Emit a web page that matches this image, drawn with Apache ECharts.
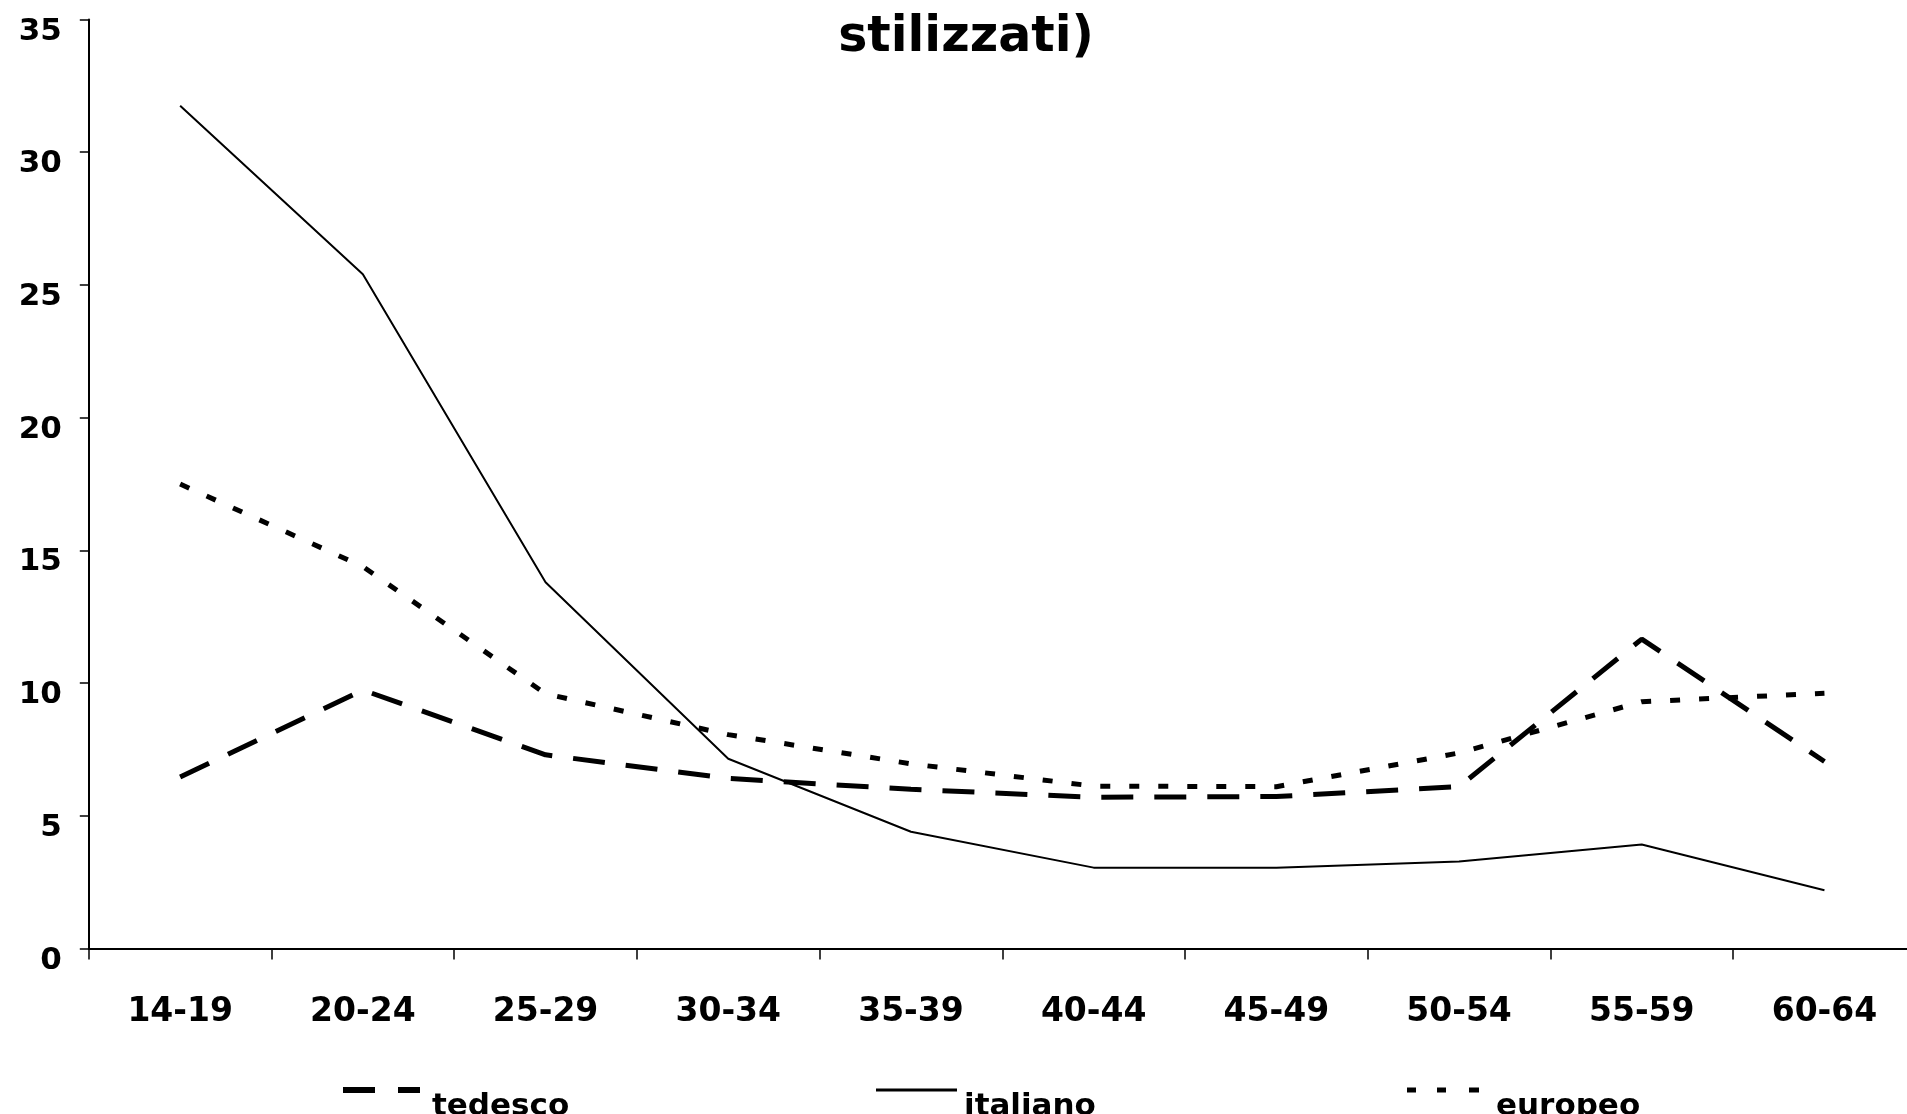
<!DOCTYPE html>
<html>
<head>
<meta charset="utf-8">
<script src="https://cdn.jsdelivr.net/npm/echarts@6/dist/echarts.min.js"></script>
<style>
html,body{margin:0;padding:0;background:#fff;}
#main{width:1907px;height:1114px;}
</style>
</head>
<body>
<div id="main"></div>
<script>
const categories = ['14-19','20-24','25-29','30-34','35-39','40-44','45-49','50-54','55-59','60-64'];
const tedesco  = [6.46, 9.74, 7.3, 6.41, 6.0, 5.7, 5.73, 6.1, 11.66, 7.05];
const italiano = [31.75, 25.4, 13.8, 7.15, 4.4, 3.05, 3.05, 3.28, 3.92, 2.2];
const europeo  = [17.5, 14.39, 9.6, 8.06, 6.96, 6.12, 6.1, 7.37, 9.3, 9.62];
const titleText = 'stilizzati)';

const FONT = 'DejaVu Sans';
const chart = echarts.init(document.getElementById('main'), null, {renderer:'canvas'});

// legend icon shapes: visible dash samples at the top of the icon box; degenerate
// points stretch the box (lower label, gap before the label) without drawing anything
const ICONS = {
  tedesco:  'path://M0,0h32v6h-32z M55,0h22v6h-22z M0,40L0,40Z M84,40L84,40Z',
  italiano: 'path://M0,1.5h81v3h-81z M0,0L0,0Z M0,40L0,40Z M83,40L83,40Z',
  europeo:  'path://M0,0.5h9v5h-9z M30,0.5h9v5h-9z M62,0.5h10v5h-10z M0,0L0,0Z M0,40L0,40Z M84,40L84,40Z'
};
const ICON_W = {tedesco: 84, italiano: 83, europeo: 84};
const ICON_X = {tedesco: 343, italiano: 876, europeo: 1407};

function legendAt(name) {
  return {
    data: [{name: name, icon: ICONS[name]}],
    left: ICON_X[name],
    top: 1087,
    padding: 0,
    itemWidth: ICON_W[name],
    itemHeight: 40,
    itemGap: 12,
    itemStyle: {color: '#000', borderWidth: 0},
    lineStyle: {width: 0},
    textStyle: {fontFamily: FONT, fontWeight: 'bold', fontSize: 31, color: '#000'},
    selectedMode: false
  };
}

chart.setOption({
  animation: false,
  backgroundColor: '#fff',
  title: {
    text: titleText,
    left: 961, textAlign: 'center',
    top: 9,
    textStyle: {fontFamily: FONT, fontWeight: 'bold', fontSize: 49, color: '#000'}
  },
  legend: [legendAt('tedesco'), legendAt('italiano'), legendAt('europeo')],
  grid: {left: 88.8, width: 1827, top: 19.5, bottom: 165.4, containLabel: false, outerBoundsMode: 'none'},
  xAxis: {
    type: 'category',
    data: categories,
    boundaryGap: true,
    axisLine: {lineStyle: {color: '#000', width: 2}},
    axisTick: {show: true, length: 11, inside: false, lineStyle: {color: '#000', width: 1.5}},
    axisLabel: {fontFamily: FONT, fontWeight: 'bold', fontSize: 33, color: '#000', margin: 47, interval: 0},
    splitLine: {show: false}
  },
  yAxis: {
    type: 'value',
    min: 0, max: 35, interval: 5,
    axisLine: {show: true, lineStyle: {color: '#000', width: 2}},
    axisTick: {show: true, length: 9, inside: false, lineStyle: {color: '#000', width: 1.5}},
    axisLabel: {fontFamily: FONT, fontWeight: 'bold', fontSize: 31, color: '#000', margin: 27,
                verticalAlign: 'top', lineHeight: 24},
    splitLine: {show: false}
  },
  series: [
    {name: 'tedesco', type: 'line', data: tedesco, symbol: 'none', color: '#000',
     lineStyle: {color: '#000', width: 5, type: [32, 21], cap: 'butt'}},
    {name: 'italiano', type: 'line', data: italiano, symbol: 'none', color: '#000',
     lineStyle: {color: '#000', width: 2}},
    {name: 'europeo', type: 'line', data: europeo, symbol: 'none', color: '#000',
     lineStyle: {color: '#000', width: 5, type: [10, 19], cap: 'butt'}}
  ]
});
</script>
</body>
</html>
